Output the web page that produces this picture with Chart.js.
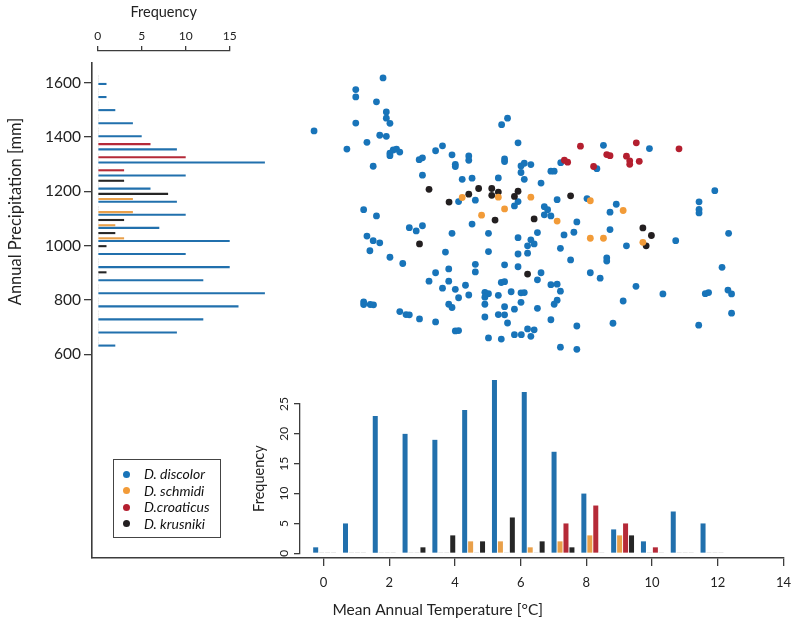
<!DOCTYPE html>
<html>
<head>
<meta charset="utf-8">
<title>Annual precipitation vs mean annual temperature</title>
<script src="https://cdn.jsdelivr.net/npm/chart.js@4.4.1/dist/chart.umd.min.js"></script>
<style>
  html, body { margin: 0; padding: 0; background: #fff; }
  #wrap { position: relative; width: 800px; height: 632px; overflow: hidden; }
  #wrap canvas { position: absolute; left: 0; top: 0; }
  #legend {
    position: absolute; left: 113px; top: 459px; width: 108px; height: 79px;
    box-sizing: border-box; border: 1px solid #444;
    font: italic 14px Lato, "Open Sans", sans-serif; color: #111;
  }
  #legend .item { position: absolute; left: 0; height: 16px; line-height: 16px; white-space: nowrap; }
  #legend .dot { position: absolute; left: 8.5px; top: 4.5px; width: 7px; height: 7px; border-radius: 50%; }
  #legend .lbl { position: absolute; left: 30px; top: 0; }
</style>
</head>
<body>
<div id="wrap">
  <canvas id="main" width="800" height="632"></canvas>
  <canvas id="tempHist" width="800" height="632"></canvas>
  <canvas id="precipHist" width="800" height="632"></canvas>
  <div id="legend"></div>
</div>
<script>
// --- DATA ---
const species = ['D. discolor', 'D. schmidi', 'D.croaticus', 'D. krusniki'];

// scatter: mean annual temperature [°C] / annual precipitation [mm]
const discolorTemp = [
  1.81, 0.98, 0.98, 1.61, 1.91, 1.91, 2.02, 0.98, -0.29, 1.71,
  1.91, 1.32, 0.71, 2.12, 2.22, 2.02, 2.02, 2.32, 1.51, 2.91,
  3.01, 3.41, 3.62, 3.91, 4.01, 4.01, 4.42, 4.42, 3.01, 4.22,
  4.52, 5.42, 5.60, 5.51, 5.51, 5.32, 4.11, 4.62, 5.92, 6.01,
  6.11, 6.31, 6.01, 6.11, 6.62, 6.92, 7.02, 7.22, 8.52, 8.32,
  9.92, 5.92, 5.81, 6.72, 6.82, 7.11, 8.02, 8.91, 11.91, 11.43,
  11.43, 11.43, 1.22, 1.61, 2.61, 2.82, 3.01, 1.32, 1.51, 1.71,
  1.41, 3.91, 4.52, 5.02, 3.71, 5.02, 2.02, 2.41, 4.62, 4.62,
  5.51, 3.81, 3.41, 3.21, 3.81, 3.62, 4.01, 4.32, 4.11, 4.42,
  4.91, 5.02, 4.91, 5.32, 5.41, 5.51, 4.91, 5.51, 1.22, 1.22,
  1.42, 1.52, 3.81, 3.91, 2.32, 2.51, 2.61, 2.92, 3.41, 4.91,
  5.32, 5.51, 5.60, 4.01, 4.11, 5.02, 5.41, 6.72, 6.92, 7.71,
  8.72, 8.72, 9.22, 10.72, 12.33, 6.51, 5.92, 6.31, 6.41, 6.21,
  7.32, 7.62, 7.21, 5.92, 6.21, 8.62, 8.62, 7.52, 5.92, 6.62,
  6.51, 8.12, 8.42, 12.13, 6.92, 7.11, 7.21, 7.11, 7.02, 9.51,
  10.33, 11.62, 11.72, 12.31, 12.42, 5.71, 6.01, 6.11, 6.01, 5.81,
  6.51, 9.12, 12.42, 6.92, 8.81, 7.71, 11.42, 6.21, 6.41, 5.81,
  6.02, 6.31, 7.21, 7.71
];
const discolorPrecip = [
  1617, 1574, 1547, 1529, 1492, 1469, 1450, 1451, 1422, 1406,
  1402, 1380, 1355, 1352, 1355, 1340, 1331, 1344, 1292, 1316,
  1323, 1349, 1367, 1334, 1299, 1291, 1330, 1314, 1259, 1244,
  1248, 1445, 1469, 1319, 1309, 1249, 1162, 1167, 1378, 1293,
  1303, 1298, 1269, 1244, 1230, 1274, 1274, 1305, 1369, 1283,
  1357, 1162, 1146, 1143, 1132, 1169, 1173, 1152, 1202, 1161,
  1133, 1120, 1132, 1109, 1066, 1054, 1073, 1035, 1018, 1010,
  981, 1045, 1079, 1045, 976, 978, 957, 934, 931, 903,
  929, 914, 900, 869, 869, 843, 839, 854, 808, 818,
  828, 823, 810, 817, 864, 867, 784, 775, 793, 783,
  783, 782, 784, 772, 757, 746, 745, 730, 719, 737,
  746, 745, 715, 686, 687, 660, 656, 1113, 1109, 1087,
  1123, 1059, 999, 1018, 1045, 1048, 1029, 1021, 1006, 999,
  1039, 1049, 990, 969, 972, 955, 943, 947, 922, 900,
  874, 900, 880, 920, 856, 858, 832, 799, 784, 850,
  822, 823, 827, 836, 822, 830, 826, 827, 791, 766,
  769, 796, 751, 727, 714, 704, 707, 693, 690, 672,
  672, 666, 626, 618
];
const schmidiTemp = [4.22, 5.32, 6.31, 5.51, 4.81, 8.12, 9.12, 7.11, 9.72, 8.12, 8.52];
const schmidiPrecip = [1177, 1178, 1178, 1135, 1112, 1165, 1129, 1090, 1012, 1027, 1027];
const croaticusTemp = [7.33, 7.43, 7.82, 8.22, 8.62, 8.72, 9.52, 9.22, 9.32, 9.32, 9.61, 10.82];
const croaticusPrecip = [1314, 1307, 1366, 1291, 1335, 1331, 1378, 1329, 1312, 1299, 1310, 1356];
const krusnikiTemp = [3.21, 3.82, 4.42, 4.72, 5.12, 5.12, 5.32, 5.81, 5.92, 7.52, 5.22, 6.41, 2.92, 6.21, 9.72, 9.98, 9.82];
const krusnikiPrecip = [1207, 1160, 1189, 1210, 1210, 1185, 1197, 1181, 1200, 1183, 1094, 1098, 1006, 895, 1065, 1037, 999];

// left histogram: precipitation classes, top (wettest) to bottom
const precipBins = ['1600', '1550', '1500', '1450', '1400', '1350', '1300', '1250', '1200', '1150', '1100',
                    '1050', '1000', '950', '900', '850', '800', '750', '700', '650', '600'];
const precipDiscolor  = [1, 1, 2, 4, 5, 9, 19, 10, 6, 9, 10, 7, 15, 10, 15, 12, 19, 16, 12, 9, 2];
const precipSchmidi   = [0, 0, 0, 0, 0, 0, 0, 0, 0, 4, 4, 2, 3, 0, 0, 0, 0, 0, 0, 0, 0];
const precipCroaticus = [0, 0, 0, 0, 0, 6, 10, 3, 0, 0, 0, 0, 0, 0, 0, 0, 0, 0, 0, 0, 0];
const precipKrusniki  = [0, 0, 0, 0, 0, 0, 0, 0, 3, 8, 0, 3, 2, 1, 0, 1, 0, 0, 0, 0, 0];

// bottom histogram: 1 °C temperature classes from -1 to 13
const tempBins = ['-1', '0', '1', '2', '3', '4', '5', '6', '7', '8', '9', '10', '11', '12'];
const tempDiscolor  = [1, 5, 23, 20, 19, 24, 29, 27, 17, 10, 4, 2, 7, 5];
const tempSchmidi   = [0, 0, 0, 0, 0, 2, 2, 1, 2, 3, 3, 0, 0, 0];
const tempCroaticus = [0, 0, 0, 0, 0, 0, 0, 0, 5, 8, 5, 1, 0, 0];
const tempKrusniki  = [0, 0, 0, 1, 3, 2, 6, 2, 1, 0, 3, 0, 0, 0];

const tempTicks = [0, 2, 4, 6, 8, 10, 12, 14];
const precipTicks = [600, 800, 1000, 1200, 1400, 1600];

// --- STYLE ---
const POINT_COLORS = ['#1874b9', '#f29b38', '#b41f2f', '#231f20'];
const BAR_COLORS = ['#2170ad', '#e9a04a', '#b52a38', '#262626'];
const ZERO_COLOR = '#c4c4c4';
const AXIS_COLOR = '#3c3c3c';

Chart.defaults.font.family = 'Lato, "Open Sans", sans-serif';
Chart.defaults.color = '#222';

const scatterTemp = [discolorTemp, schmidiTemp, croaticusTemp, krusnikiTemp];
const scatterPrecip = [discolorPrecip, schmidiPrecip, croaticusPrecip, krusnikiPrecip];
const precipCounts = [precipDiscolor, precipSchmidi, precipCroaticus, precipKrusniki];
const tempCounts = [tempDiscolor, tempSchmidi, tempCroaticus, tempKrusniki];

function fixedTicks(values) {
  return scale => { scale.ticks = values.map(v => ({ value: v })); };
}

function axisGrid(len) {
  return { drawOnChartArea: false, drawTicks: true, tickLength: len, color: AXIS_COLOR, lineWidth: 1.3 };
}

const noChrome = { legend: { display: false }, tooltip: { enabled: false } };

// --- SCATTER + SHARED AXES ---
new Chart(document.getElementById('main'), {
  type: 'scatter',
  data: {
    datasets: species.map((name, i) => ({
      label: name,
      data: scatterTemp[i].map((t, j) => ({ x: t, y: scatterPrecip[i][j] })),
      backgroundColor: POINT_COLORS[i],
      borderWidth: 0,
      pointRadius: 3.4,
      order: i === 0 ? 2 : 1
    }))
  },
  options: {
    responsive: false,
    animation: false,
    devicePixelRatio: 1,
    layout: { padding: { left: 0, top: 63, right: 15, bottom: 0 } },
    plugins: noChrome,
    scales: {
      x: {
        type: 'linear', position: 'bottom', min: -7.05, max: 14,
        afterBuildTicks: fixedTicks(tempTicks),
        afterFit: s => { s.height = 74; },
        grid: axisGrid(8),
        border: { color: AXIS_COLOR, width: 1.6 },
        ticks: { font: { size: 13 }, padding: 9, maxRotation: 0, autoSkip: false, callback: v => String(v) },
        title: { display: true, text: 'Mean Annual Temperature [°C]', font: { size: 15.5 }, padding: { bottom: 13 } }
      },
      y: {
        type: 'linear', position: 'left', min: -150, max: 1672,
        afterBuildTicks: fixedTicks(precipTicks),
        afterFit: s => { s.width = 92; },
        grid: axisGrid(8),
        border: { color: AXIS_COLOR, width: 1.6 },
        ticks: { font: { size: 15.5 }, padding: 3, autoSkip: false, callback: v => String(v) }
      }
    }
  }
});

// --- BOTTOM HISTOGRAM (temperature) ---
new Chart(document.getElementById('tempHist'), {
  type: 'bar',
  data: {
    datasets: species.map((name, i) => ({
      label: name,
      data: tempBins.map((bin, j) => ({ x: j, y: tempCounts[i][j] })),
      backgroundColor: ctx => (ctx.raw && ctx.raw.y === 0) ? ZERO_COLOR : BAR_COLORS[i]
    }))
  },
  options: {
    responsive: false,
    animation: false,
    devicePixelRatio: 1,
    layout: { padding: { left: 250, right: 60, top: 404, bottom: 78.7 } },
    plugins: noChrome,
    datasets: { bar: { categoryPercentage: 0.8, barPercentage: 0.84, minBarLength: 1, clip: false } },
    scales: {
      x: {
        type: 'linear', display: false, min: -0.826, max: 13.94, offset: false,
        ticks: { stepSize: 1, includeBounds: false }
      },
      y: {
        type: 'linear', position: 'left', min: 0, max: 25,
        afterFit: s => { s.width = 50; },
        grid: axisGrid(6),
        border: { color: AXIS_COLOR, width: 1.3 },
        ticks: { stepSize: 5, minRotation: 90, maxRotation: 90, crossAlign: 'center', padding: 3, font: { size: 12 } },
        title: { display: true, text: 'Frequency', font: { size: 14.5 }, padding: { top: 0.5 } }
      }
    }
  }
});

// --- LEFT HISTOGRAM (precipitation) ---
// krusniki on top of each group, discolor at the bottom
const leftOrder = [3, 2, 1, 0];
new Chart(document.getElementById('precipHist'), {
  type: 'bar',
  data: {
    datasets: leftOrder.map(i => ({
      label: species[i],
      data: precipBins.map((bin, j) => ({ x: precipCounts[i][j], y: j })),
      backgroundColor: ctx => (ctx.raw && ctx.raw.x === 0) ? ZERO_COLOR : BAR_COLORS[i]
    }))
  },
  options: {
    indexAxis: 'y',
    responsive: false,
    animation: false,
    devicePixelRatio: 1,
    layout: { padding: { left: 0, right: 570.3, top: 0, bottom: 260 } },
    plugins: noChrome,
    datasets: { bar: { categoryPercentage: 0.8, barPercentage: 0.8, minBarLength: 1, clip: false } },
    scales: {
      x: {
        type: 'linear', position: 'top', min: 0, max: 15,
        afterFit: s => { s.height = 51; },
        grid: axisGrid(5),
        border: { color: AXIS_COLOR, width: 1.3 },
        ticks: { stepSize: 5, padding: 3, font: { size: 12 } },
        title: { display: true, text: 'Frequency', font: { size: 14.5 }, padding: { top: 4 } }
      },
      // hidden class axis; it only carries the shared precipitation title
      y: {
        type: 'linear', position: 'left', reverse: true, min: -2.22, max: 22.32, offset: false,
        afterFit: s => { s.width = 97.7; },
        grid: { display: false },
        border: { display: false },
        ticks: { display: false, stepSize: 1, includeBounds: false },
        title: { display: true, text: 'Annual Precipitation [mm]', font: { size: 16.5 }, padding: { top: 6 } }
      }
    }
  }
});

// --- LEGEND ---
const legend = document.getElementById('legend');
species.forEach((name, i) => {
  const item = document.createElement('div');
  item.className = 'item';
  item.style.top = (6 + i * 16.5) + 'px';
  item.innerHTML = '<span class="dot" style="background:' + POINT_COLORS[i] + '"></span>' +
                   '<span class="lbl">' + name + '</span>';
  legend.appendChild(item);
});
</script>
</body>
</html>
